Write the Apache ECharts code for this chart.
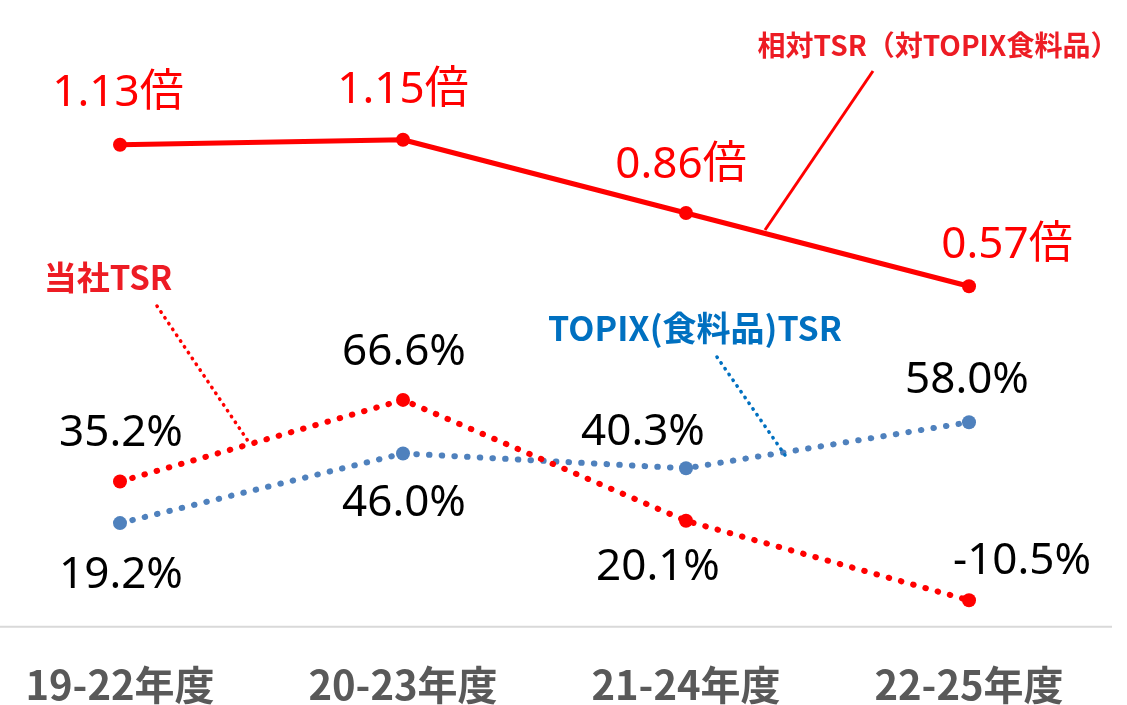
<!DOCTYPE html>
<html>
<head>
<meta charset="utf-8">
<script src="https://cdn.jsdelivr.net/npm/echarts@6/dist/echarts.min.js"></script>
<style>
html,body{margin:0;padding:0;background:#fff;}
#chart{width:1127px;height:705px;}
</style>
</head>
<body>
<div id="chart"></div>
<script>
// ---- data ----
const categories = ['19-22年度', '20-23年度', '21-24年度', '22-25年度'];
const relativeTSR = [1.13, 1.15, 0.86, 0.57];      // 倍
const companyTSR = [35.2, 66.6, 20.1, -10.5];      // %
const topixTSR = [19.2, 46.0, 40.3, 58.0];         // %
const seriesNames = ['相対TSR（対TOPIX食料品）', '当社TSR', 'TOPIX(食料品)TSR'];

// ---- label layout (pixel offsets from the point) ----
const relOffsets = [[-2, -51], [0, -49], [-5, -48], [38, -41]];
const compOffsets = [[1, -48], [1, -47], [-28, 47], [53, -39]];
const topixOffsets = [[1, 52], [1, 50], [-43, -36], [-2, -42]];

const NUM_FONT = '"Noto Sans", "Noto Sans CJK JP", sans-serif';
const JP_FONT = '"Noto Sans CJK JP", "Noto Sans", sans-serif';

function items(values, offsets, fmt, color) {
  return values.map((v, i) => ({
    value: v,
    label: {
      show: true,
      position: 'inside',
      offset: offsets[i],
      formatter: fmt,
      color: color,
      fontSize: 44,
      fontFamily: NUM_FONT
    }
  }));
}

const chart = echarts.init(document.getElementById('chart'), null, {renderer: 'canvas'});

const dotted = (color) => ({color: color, width: 6, type: [0.5, 12.2], cap: 'round'});

const GRID_TOP = 53.2, GRID_H = 573.5;

chart.setOption({
  animation: false,
  backgroundColor: '#ffffff',
  grid: {left: 120, right: 158, top: GRID_TOP, height: GRID_H, containLabel: false},
  xAxis: {
    type: 'category',
    data: categories,
    boundaryGap: false,
    axisLine: {show: false, onZero: false},
    axisTick: {show: false},
    splitLine: {show: false},
    axisLabel: {
      interval: 0,
      margin: 40,
      color: '#595959',
      fontSize: 40,
      fontWeight: 'bold',
      fontFamily: JP_FONT
    }
  },
  yAxis: [
    {type: 'value', min: -20, max: 200, show: false},
    {type: 'value', min: -0.7707, max: 1.4925, show: false}
  ],
  series: [
    {
      name: seriesNames[1],
      type: 'line',
      yAxisIndex: 0,
      data: items(companyTSR, compOffsets, p => p.value.toFixed(1) + '%', '#000000'),
      symbol: 'circle',
      symbolSize: 14,
      itemStyle: {color: '#FF0000'},
      lineStyle: dotted('#FF0000'),
      z: 3
    },
    {
      name: seriesNames[2],
      type: 'line',
      yAxisIndex: 0,
      data: items(topixTSR, topixOffsets, p => p.value.toFixed(1) + '%', '#000000'),
      symbol: 'circle',
      symbolSize: 14,
      itemStyle: {color: '#4F81BD'},
      lineStyle: dotted('#4F81BD'),
      z: 2
    },
    {
      name: seriesNames[0],
      type: 'line',
      yAxisIndex: 1,
      data: items(relativeTSR, relOffsets, p => p.value.toFixed(2) + '倍', '#FF0000'),
      symbol: 'circle',
      symbolSize: 14,
      itemStyle: {color: '#FF0000'},
      lineStyle: {color: '#FF0000', width: 5},
      z: 4
    }
  ],
  graphic: [
    // baseline (category axis line spanning the full plot band)
    {type: 'line', shape: {x1: 0, y1: GRID_TOP + GRID_H, x2: 1112, y2: GRID_TOP + GRID_H},
      style: {stroke: '#D9D9D9', lineWidth: 2}, z: 1},
    // annotation leader lines
    {type: 'line', shape: {x1: 873, y1: 71, x2: 765, y2: 230},
      style: {stroke: '#FF0000', lineWidth: 3}, z: 10},
    {type: 'line', shape: {x1: 157, y1: 306, x2: 248, y2: 441},
      style: {stroke: '#FF0000', lineWidth: 3.5, lineDash: [0.5, 6.5], lineCap: 'round'}, z: 10},
    {type: 'line', shape: {x1: 717, y1: 357, x2: 785, y2: 455},
      style: {stroke: '#0070C0', lineWidth: 3.5, lineDash: [0.5, 6.5], lineCap: 'round'}, z: 10},
    // annotation texts (series names)
    {type: 'text', x: 938, y: 45, z: 10,
      style: {text: seriesNames[0], fill: '#ED1C24', font: 'bold 28px ' + JP_FONT,
        textAlign: 'center', textVerticalAlign: 'middle'}},
    {type: 'text', x: 108, y: 277, z: 10,
      style: {text: seriesNames[1], fill: '#ED1C24', font: 'bold 33px ' + JP_FONT,
        textAlign: 'center', textVerticalAlign: 'middle'}},
    {type: 'text', x: 695, y: 328, z: 10,
      style: {text: seriesNames[2], fill: '#0070C0', font: 'bold 34px ' + JP_FONT,
        textAlign: 'center', textVerticalAlign: 'middle'}}
  ]
});
</script>
</body>
</html>
